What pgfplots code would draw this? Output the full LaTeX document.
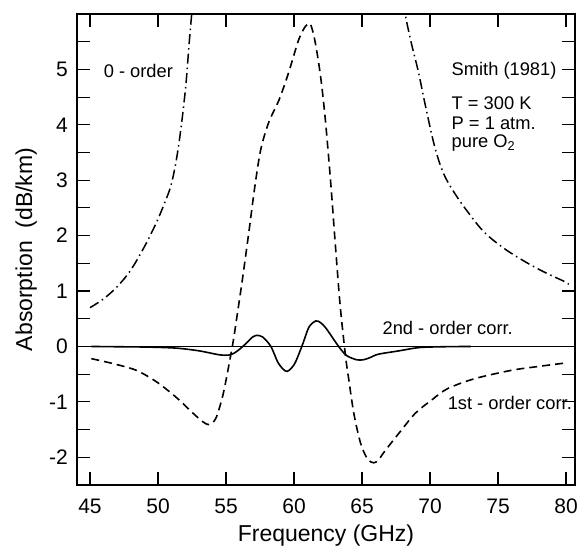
\documentclass[border=0pt]{standalone}
\usepackage{fontspec}
\setmainfont{Liberation Sans}
\usepackage{pgfplots}
\pgfplotsset{compat=1.18}

\begin{document}
\begin{tikzpicture}
\begin{axis}[
  name=ax,
  scale only axis,
  width=498pt, height=471pt,
  xmin=44.044, xmax=80.66,
  ymin=-2.5, ymax=6,
  xtick={45,50,...,80},
  ytick={-2,-1,...,5},
  minor ytick={-2.5,-1.5,...,5.5},
  tick align=inside,
  major tick length=13pt, minor tick length=13pt,
  every tick/.style={black, line width=1.1pt},
  axis line style={line width=1.2pt},
  /pgf/number format/assume math mode=true,
  ticklabel style={font=\fontsize{21}{21}\selectfont, inner sep=0pt},
  yticklabel style={xshift=-9pt},
  xticklabel style={yshift=-14pt},
  xlabel={Frequency (GHz)},
  ylabel={Absorption~~(dB/km)},
  label style={font=\fontsize{23}{23}\selectfont},
  xlabel style={at={(axis description cs:0.5,-0.108)}, anchor=center},
  ylabel style={at={(axis description cs:-0.102,0.5)}, anchor=center},
  clip=true,
]
% zero line
\addplot[black, line width=0.8pt] coordinates {(44,0) (81,0)};

% 0 - order (two wings)
\addplot[black, line width=1.5pt, smooth, tension=0.6,
  dash pattern=on 10pt off 4pt on 1.5pt off 4pt] coordinates {
  (45.0,0.70) (46.0,0.86) (47.0,1.08) (48.0,1.38) (49.0,1.80) (49.5,2.04)
  (50.0,2.30) (50.5,2.60) (51.0,2.95) (51.5,3.60) (52.0,4.60) (52.3,5.50)
  (52.55,6.20)
};
\addplot[black, line width=1.5pt, smooth, tension=0.6,
  dash pattern=on 10pt off 4pt on 1.5pt off 4pt] coordinates {
  (68.05,6.20) (68.25,5.90) (68.65,5.45) (69.15,4.95) (69.7,4.30) (70.35,3.60)
  (71.0,3.12) (71.8,2.77) (72.8,2.42) (74.0,2.06) (75.5,1.76) (77.2,1.50)
  (78.5,1.33) (79.9,1.17) (80.2,1.12)
};

% 1st - order corr.
\addplot[black, line width=1.6pt, smooth, tension=0.5,
  dash pattern=on 8pt off 5pt] coordinates {
  (45.1,-0.22) (46.7,-0.31) (48.4,-0.43) (49.9,-0.64) (51.3,-0.91) (52.6,-1.21)
  (53.3,-1.36) (53.7,-1.41) (54.0,-1.38) (54.3,-1.27) (54.7,-0.95) (55.0,-0.61)
  (55.5,0.05) (55.75,0.45) (56.2,1.20) (56.7,2.10) (57.1,2.85) (57.55,3.55)
  (58.15,4.05) (58.9,4.45) (59.6,4.94) (60.35,5.54) (60.85,5.78) (61.2,5.82)
  (61.55,5.50) (61.95,4.88) (62.3,4.10) (62.7,2.95) (63.05,1.80) (63.4,0.72)
  (63.8,-0.20) (64.0,-0.55) (64.4,-1.21) (64.9,-1.75) (65.4,-2.03) (65.85,-2.10)
  (66.2,-2.05) (66.7,-1.88) (67.7,-1.57) (68.9,-1.21) (70.1,-0.97) (71.3,-0.76)
  (73.3,-0.58) (76.0,-0.43) (78.0,-0.36) (79.9,-0.30)
};

% 2nd - order corr.
\addplot[black, line width=1.6pt, smooth, tension=0.5] coordinates {
  (45.1,0) (47.0,-0.005) (49.0,-0.01) (50.5,-0.02) (51.6,-0.035) (53.05,-0.08)
  (54.5,-0.15) (55.2,-0.155) (55.6,-0.12) (56.0,-0.05) (56.5,0.06) (56.9,0.16)
  (57.25,0.20) (57.7,0.17) (58.3,0.0) (58.8,-0.28) (59.2,-0.41) (59.5,-0.45)
  (59.85,-0.38) (60.15,-0.26) (60.65,0.05) (61.1,0.35) (61.6,0.46) (61.95,0.43)
  (62.35,0.33) (63.05,0.08) (63.5,-0.07) (63.9,-0.17) (64.6,-0.24) (65.1,-0.24)
  (65.6,-0.20) (66.2,-0.14) (67.7,-0.08) (69.2,-0.02) (71.0,-0.005) (73.0,0)
};

\begin{scope}[every node/.style={font=\fontsize{18.3}{18.3}\selectfont, inner sep=0pt, anchor=west}]
\node at (axis cs:46.0,4.97) {0 - order};
\node at (axis cs:71.58,4.97) {Smith (1981)};
\node at (axis cs:71.58,4.39) {T = 300 K};
\node at (axis cs:71.58,4.03) {P = 1 atm.};
\node at (axis cs:71.58,3.67) {pure O\textsubscript{2}};
\node at (axis cs:66.5,0.34) {2nd - order corr.};
\node at (axis cs:71.29,-1.02) {1st - order corr.};
\end{scope}
\end{axis}
\pgfresetboundingbox
\path[use as bounding box] ([xshift=-77pt,yshift=-63pt]ax.south west) rectangle ([xshift=3pt,yshift=14pt]ax.north east);
\end{tikzpicture}
\end{document}
